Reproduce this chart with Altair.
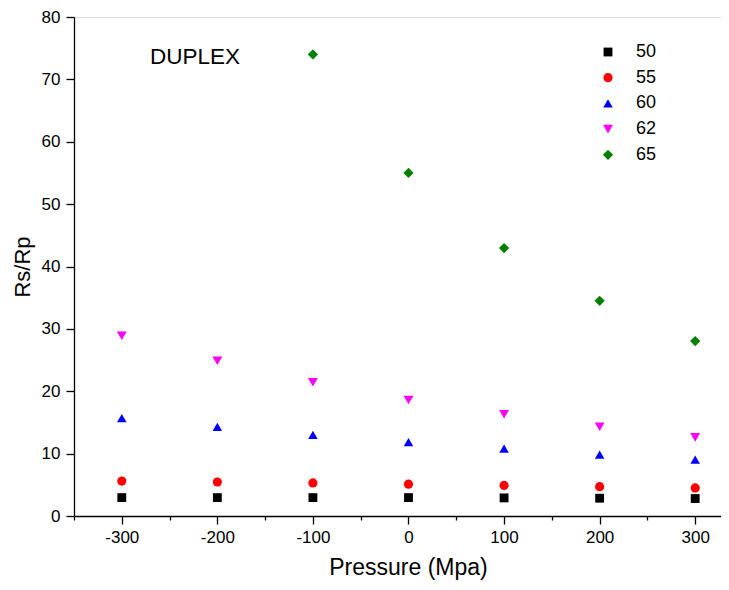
import altair as alt
import pandas as pd

pressure = [-300, -200, -100, 0, 100, 200, 300]
s50 = [2.95, 2.95, 2.95, 2.95, 2.9, 2.85, 2.8]
s55 = [5.6, 5.45, 5.3, 5.1, 4.9, 4.7, 4.5]
s60 = [15.7, 14.3, 13.0, 11.85, 10.8, 9.85, 9.05]
s62 = [28.9, 24.9, 21.45, 18.6, 16.3, 14.3, 12.6]
pressure65 = [-100, 0, 100, 200, 300]
s65 = [74.0, 55.0, 42.95, 34.5, 28.05]

series_names = ["50", "55", "60", "62", "65"]
series_colors = ["#000000", "#FF0000", "#0000FF", "#FF00FF", "#008000"]
series_shapes = ["square", "circle", "triangle-up", "triangle-down", "diamond"]
series_sizes = [78, 105, 145, 145, 150]

x_ticks = [-350, -300, -250, -200, -150, -100, -50, 0, 50, 100, 150, 200, 250, 300]
y_ticks = [0, 5, 10, 15, 20, 25, 30, 35, 40, 45, 50, 55, 60, 65, 70, 75, 80]

rows = []
for name, vals in zip(["50", "55", "60", "62"], [s50, s55, s60, s62]):
    for p, v in zip(pressure, vals):
        rows.append({"Pressure": p, "Value": v, "Series": name})
for p, v in zip(pressure65, s65):
    rows.append({"Pressure": p, "Value": v, "Series": "65"})
df = pd.DataFrame(rows)

label_df = pd.DataFrame({"Pressure": [-223.5], "Value": [73.6], "text": ["DUPLEX"]})

FONT = "Liberation Sans"

xscale = alt.Scale(domain=[-350, 327], nice=False, zero=False)
yscale = alt.Scale(domain=[0, 80], nice=False)

common_axis = dict(grid=False, domainColor="black", tickColor="black", labelColor="black",
                   titleColor="black", labelFont=FONT, titleFont=FONT, domainWidth=1.3,
                   tickWidth=1.3, titleFontWeight="normal", labelFontSize=17)

points = alt.Chart(df).mark_point(filled=True, opacity=1, strokeWidth=0).encode(
    x=alt.X("Pressure:Q", scale=xscale,
            axis=alt.Axis(values=x_ticks, title="Pressure (Mpa)", orient="bottom",
                          tickSize=alt.condition("datum.value % 100 === 0", alt.value(8), alt.value(4)),
                          labelExpr="datum.value % 100 === 0 ? replace(datum.label, '\u2212', '-') : ''",
                          labelPadding=5, titlePadding=11, titleFontSize=23, titleX=334,
                          **common_axis)),
    y=alt.Y("Value:Q", scale=yscale,
            axis=alt.Axis(values=y_ticks, title="Rs/Rp", orient="left",
                          tickSize=alt.condition("datum.value % 10 === 0", alt.value(8), alt.value(4)),
                          labelExpr="datum.value % 10 === 0 ? datum.label : ''",
                          labelPadding=6, titlePadding=7, titleFontSize=22, **common_axis)),
    color=alt.Color("Series:N", scale=alt.Scale(domain=series_names, range=series_colors),
                    legend=alt.Legend(orient="none", legendX=525, legendY=26, title=None,
                                      labelFontSize=18, labelFont=FONT, labelColor="black",
                                      rowPadding=7.7, labelOffset=19,
                                      symbolStrokeWidth=0)),
    shape=alt.Shape("Series:N", scale=alt.Scale(domain=series_names, range=series_shapes)),
    size=alt.Size("Series:N", scale=alt.Scale(domain=series_names, range=series_sizes)),
)

label = alt.Chart(label_df).mark_text(fontSize=22.5, font=FONT, color="black", align="center",
                                      baseline="middle").encode(
    x=alt.X("Pressure:Q", scale=xscale),
    y=alt.Y("Value:Q", scale=yscale),
    text="text:N",
)

chart = alt.layer(points, label).properties(
    width=647, height=499,
    autosize=alt.AutoSizeParams(type="none"),
    padding={"left": 66, "top": 9, "right": 0, "bottom": 66},
).configure_view(stroke=None).configure(background="white")

chart.save("out.html", embed_options={"renderer": "svg", "actions": False})
